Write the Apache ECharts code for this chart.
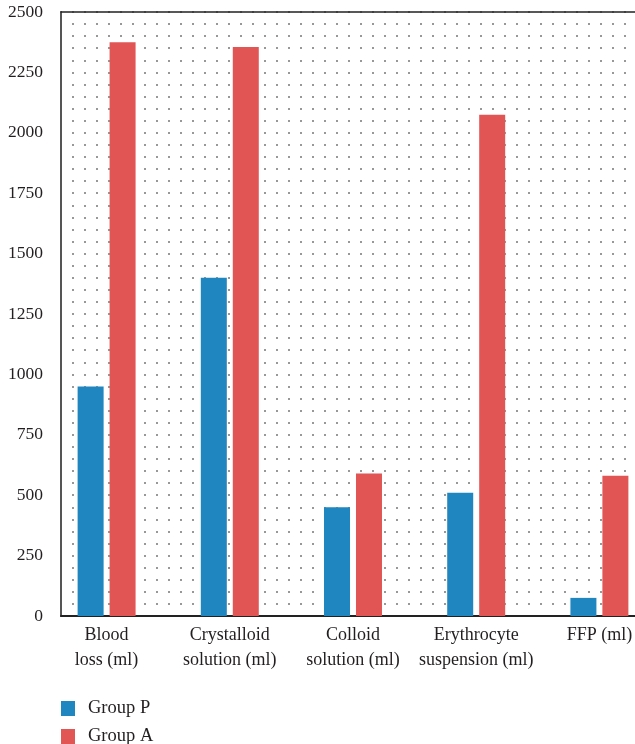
<!DOCTYPE html>
<html><head><meta charset="utf-8">
<script src="https://cdn.jsdelivr.net/npm/echarts@6/dist/echarts.min.js"></script>
<style>html,body{margin:0;padding:0;background:#fff;overflow:hidden}#c{width:661px;height:744px}</style>
</head><body><div id="c"></div>
<script>
const categories = ['Blood\nloss (ml)', 'Crystalloid\nsolution (ml)', 'Colloid\nsolution (ml)', 'Erythrocyte\nsuspension (ml)', 'FFP (ml)'];
const groupP = [950, 1400, 450, 510, 75];
const groupA = [2375, 2355, 590, 2075, 580];
const seriesNames = ['Group P', 'Group A'];
const yMin = 0, yMax = 2500, yStep = 250;

const font = 'Liberation Serif';
const legendBase = {
  orient: 'vertical', left: 61, padding: 0, itemWidth: 14, itemHeight: 15,
  icon: 'rect', textStyle: {fontFamily: font, fontSize: 18.5, color: '#231f20', padding: [0, 0, 0, 8]}
};
const chart = echarts.init(document.getElementById('c'), null, {renderer: 'canvas'});
chart.setOption({
  animation: false,
  color: ['#1F86BF', '#E25555'],
  textStyle: {fontFamily: font},
  legend: [
    Object.assign({}, legendBase, {top: 699, data: [seriesNames[0]]}),
    Object.assign({}, legendBase, {top: 727, data: [seriesNames[1]]})
  ],
  grid: [
    {left: 45, right: 0, top: 12, bottom: 128},
    {left: 61, right: 26, top: 12, bottom: 128}
  ],
  xAxis: [
    {gridIndex: 0, type: 'category', data: categories,
     axisLine: {show: false}, axisTick: {show: false},
     axisLabel: {fontFamily: font, fontSize: 18, color: '#231f20', lineHeight: 25, margin: 7, interval: 0}},
    {gridIndex: 1, type: 'value', min: 0, max: 1, position: 'bottom',
     axisLine: {show: true, lineStyle: {color: '#222', width: 2}}, axisTick: {show: false},
     axisLabel: {show: false}, splitLine: {show: false}},
    {gridIndex: 1, type: 'value', min: 0, max: 1, position: 'top',
     axisLine: {show: true, onZero: false, lineStyle: {color: '#222', width: 1.5}}, axisTick: {show: false},
     axisLabel: {show: false}, splitLine: {show: false}}
  ],
  yAxis: [
    {gridIndex: 0, type: 'value', min: yMin, max: yMax, show: false, splitLine: {show: false}},
    {gridIndex: 1, type: 'value', min: yMin, max: yMax, interval: yStep,
     axisLine: {show: true, lineStyle: {color: '#555', width: 2}}, axisTick: {show: false},
     axisLabel: {fontFamily: font, fontSize: 17.5, color: '#231f20', margin: 18, formatter: v => String(v)},
     splitLine: {show: false}},
    {gridIndex: 1, type: 'value', min: yMin, max: yMax, interval: 50,
     axisLine: {show: false}, axisTick: {show: false}, axisLabel: {show: false},
     splitLine: {show: true, lineStyle: {color: '#777', width: 1.5, type: [2, 10], dashOffset: -11}}}
  ],
  series: [
    {name: seriesNames[0], type: 'bar', xAxisIndex: 0, yAxisIndex: 0, data: groupP, barWidth: 26, barGap: '23%', z: 5},
    {name: seriesNames[1], type: 'bar', xAxisIndex: 0, yAxisIndex: 0, data: groupA, barWidth: 26, barGap: '23%', z: 5}
  ]
});
</script></body></html>
